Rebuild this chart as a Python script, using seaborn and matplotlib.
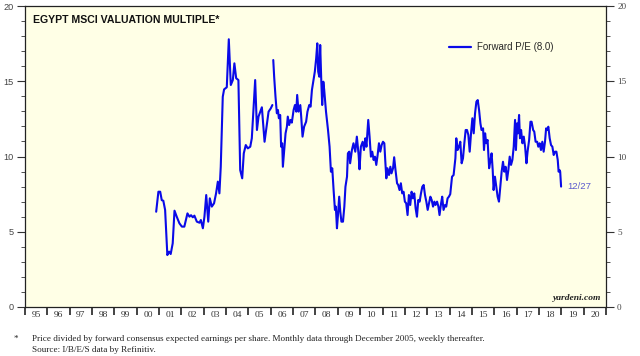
import numpy as np
import pandas as pd
import matplotlib
matplotlib.use("Agg")
import matplotlib.pyplot as plt
from matplotlib.lines import Line2D
import seaborn as sns

# ---------------- data ----------------
# Monthly data (through Dec 2005)
monthly_years = [2000.87, 2000.97, 2001.05, 2001.12, 2001.19, 2001.27, 2001.37, 2001.45, 2001.52, 2001.61,
                 2001.69, 2001.79, 2001.91, 2002.02, 2002.13, 2002.27, 2002.36, 2002.43, 2002.51, 2002.58,
                 2002.69, 2002.81, 2002.87, 2002.96, 2003.03, 2003.11, 2003.20, 2003.27, 2003.36, 2003.46,
                 2003.55, 2003.63, 2003.70, 2003.76, 2003.85, 2003.91, 2004.03, 2004.12, 2004.21, 2004.30,
                 2004.37, 2004.45, 2004.55, 2004.63, 2004.72, 2004.79, 2004.88, 2004.97, 2005.08, 2005.15,
                 2005.30, 2005.38, 2005.45, 2005.60, 2005.72, 2005.82, 2005.90, 2006.00, 2006.07]
monthly_pe = [6.33, 7.66, 7.66, 7.10, 7.06, 6.45, 3.45, 3.68, 3.52, 4.23,
              6.40, 6.00, 5.56, 5.34, 5.34, 6.22, 6.00, 6.10, 5.96, 6.07,
              5.67, 5.60, 5.78, 5.23, 6.00, 7.44, 5.67, 7.22, 6.67, 6.89,
              7.55, 8.33, 7.55, 9.32, 13.97, 14.46, 14.60, 17.79, 14.75, 15.08,
              16.19, 15.20, 15.08, 9.10, 8.55, 10.21, 10.76, 10.54, 10.65, 11.21,
              15.08, 11.76, 12.65, 13.27, 10.98, 12.09, 12.98, 13.20, 13.42]

# Weekly data (2006 onward)
weekly_years = [2006.11, 2006.15, 2006.21, 2006.27, 2006.32, 2006.36, 2006.42, 2006.46, 2006.51, 2006.54,
                2006.60, 2006.66, 2006.72, 2006.76, 2006.82, 2006.88, 2006.94, 2007.02, 2007.08, 2007.14,
                2007.18, 2007.24, 2007.32, 2007.36, 2007.42, 2007.49, 2007.58, 2007.64, 2007.72, 2007.78,
                2007.84, 2007.91, 2007.97, 2008.03, 2008.08, 2008.12, 2008.17, 2008.21, 2008.26, 2008.30,
                2008.35, 2008.39, 2008.47, 2008.56, 2008.63, 2008.69, 2008.75, 2008.81, 2008.87, 2008.91,
                2008.96, 2009.00, 2009.06, 2009.11, 2009.16, 2009.23, 2009.29, 2009.34, 2009.41, 2009.45,
                2009.51, 2009.55, 2009.63, 2009.70, 2009.78, 2009.85, 2009.93, 2009.97, 2010.03, 2010.11,
                2010.17, 2010.23, 2010.28, 2010.36, 2010.42, 2010.48, 2010.54, 2010.60, 2010.66, 2010.72,
                2010.78, 2010.84, 2010.90, 2010.96, 2011.02, 2011.08, 2011.12, 2011.17, 2011.22, 2011.29,
                2011.35, 2011.40, 2011.47, 2011.52, 2011.58, 2011.65, 2011.70, 2011.76, 2011.82, 2011.88,
                2011.94, 2012.00, 2012.06, 2012.12, 2012.18, 2012.24, 2012.30, 2012.36, 2012.42, 2012.48,
                2012.54, 2012.60, 2012.66, 2012.72, 2012.78, 2012.84, 2012.90, 2012.96, 2013.02, 2013.08,
                2013.14, 2013.20, 2013.26, 2013.32, 2013.37, 2013.44, 2013.50, 2013.55, 2013.62, 2013.67,
                2013.73, 2013.80, 2013.85, 2013.91, 2013.97, 2014.03, 2014.11, 2014.18, 2014.26, 2014.30,
                2014.36, 2014.42, 2014.48, 2014.54, 2014.60, 2014.66, 2014.72, 2014.78, 2014.84, 2014.90,
                2014.96, 2015.02, 2015.08, 2015.14, 2015.20, 2015.26, 2015.32, 2015.38, 2015.43, 2015.50,
                2015.54, 2015.59, 2015.64, 2015.70, 2015.77, 2015.82, 2015.88, 2015.93, 2015.97, 2016.03,
                2016.09, 2016.15, 2016.21, 2016.27, 2016.33, 2016.39, 2016.45, 2016.51, 2016.57, 2016.63,
                2016.69, 2016.75, 2016.81, 2016.87, 2016.93, 2016.97, 2017.02, 2017.06, 2017.11, 2017.15,
                2017.20, 2017.26, 2017.32, 2017.38, 2017.44, 2017.49, 2017.56, 2017.62, 2017.67, 2017.74,
                2017.79, 2017.85, 2017.92, 2017.97, 2018.03, 2018.09, 2018.15, 2018.21, 2018.27, 2018.32,
                2018.36, 2018.42, 2018.48, 2018.54, 2018.60, 2018.66, 2018.72, 2018.78, 2018.84, 2018.88,
                2018.92, 2018.95, 2018.99]
weekly_pe = [16.41, 15.30, 13.97, 12.87, 13.09, 12.54, 12.76, 10.65, 10.88, 9.32,
             10.43, 11.54, 11.98, 12.65, 12.09, 12.43, 12.25, 13.09, 13.42, 12.98,
             14.09, 12.98, 13.42, 12.65, 11.32, 11.98, 12.31, 12.98, 13.42, 13.31,
             14.42, 15.08, 15.64, 16.52, 17.52, 15.64, 15.30, 17.41, 14.97, 13.42,
             14.97, 14.42, 12.98, 11.76, 10.65, 8.99, 9.22, 7.77, 6.45, 6.67,
             5.23, 6.00, 7.33, 6.33, 5.67, 5.67, 6.67, 7.99, 8.66, 10.21,
             10.32, 9.55, 10.43, 10.88, 10.32, 11.32, 10.10, 9.15, 10.65, 10.98,
             10.43, 11.21, 10.65, 12.43, 11.32, 9.99, 10.32, 9.77, 9.99, 9.44,
             10.10, 10.88, 10.32, 10.76, 10.98, 10.88, 9.77, 8.55, 9.22, 8.77,
             9.32, 8.88, 9.22, 9.95, 9.10, 8.22, 8.11, 7.77, 8.22, 7.55,
             7.66, 7.00, 6.89, 6.11, 7.44, 6.78, 7.66, 7.22, 7.55, 6.56,
             6.00, 7.11, 7.00, 7.55, 7.99, 8.11, 7.44, 7.00, 6.45, 6.89,
             7.33, 7.11, 6.67, 7.00, 6.78, 7.00, 6.67, 6.11, 6.89, 7.33,
             6.45, 6.78, 6.67, 7.22, 7.33, 7.50, 8.66, 8.77, 9.88, 11.21,
             10.43, 10.65, 10.98, 9.55, 9.88, 10.88, 11.76, 11.76, 11.43, 10.32,
             11.54, 12.54, 11.54, 12.87, 13.64, 13.75, 13.09, 12.20, 11.76, 11.87,
             10.43, 11.54, 10.88, 11.10, 9.22, 9.65, 10.21, 9.10, 7.77, 8.66,
             7.99, 7.33, 7.00, 7.99, 8.99, 9.65, 8.99, 9.32, 8.44, 9.10,
             9.99, 9.44, 9.77, 10.65, 12.43, 10.43, 12.20, 11.54, 12.76, 11.21,
             11.76, 10.88, 11.32, 10.65, 9.55, 10.32, 11.10, 12.31, 12.31, 11.76,
             11.65, 10.98, 10.98, 10.65, 10.88, 10.43, 10.98, 10.32, 10.98, 11.87,
             11.76, 11.98, 11.21, 10.76, 10.65, 10.10, 10.32, 10.32, 9.77, 8.99,
             9.10, 8.99, 8.00]

year_labels = ["95", "96", "97", "98", "99", "00", "01", "02", "03", "04", "05", "06", "07",
               "08", "09", "10", "11", "12", "13", "14", "15", "16", "17", "18", "19", "20"]
y_ticks = [0, 5, 10, 15, 20]

title = "EGYPT MSCI VALUATION MULTIPLE*"
legend_label = "Forward P/E (8.0)"
end_label = "12/27"
footnote1 = "Price divided by forward consensus expected earnings per share. Monthly data through December 2005, weekly thereafter."
footnote2 = "Source: I/B/E/S data by Refinitiv."

# ---------------- styling ----------------
sns.set_style("ticks")
plt.rcParams["font.family"] = ["Liberation Sans", "DejaVu Sans"]

line_color = "#0A0AE8"
bg_color = "#FFFFE6"

df = pd.concat([
    pd.DataFrame({"year": monthly_years, "pe": monthly_pe, "segment": "monthly"}),
    pd.DataFrame({"year": weekly_years, "pe": weekly_pe, "segment": "weekly"}),
], ignore_index=True)

fig = plt.figure(figsize=(6.4, 3.56), dpi=100)
ax = fig.add_axes([25 / 640, 1 - 307 / 356, 581 / 640, 301 / 356])
ax.set_facecolor(bg_color)

sns.lineplot(data=df, x="year", y="pe", units="segment", estimator=None,
             color=line_color, linewidth=1.5, ax=ax, legend=False, sort=False)

ax.set_xlim(1995, 2021)
ax.set_ylim(0, 20)
ax.set_xlabel("")
ax.set_ylabel("")

# x ticks: year boundaries (major, with tick marks), labels centred in year (minor)
n_years = len(year_labels)
ax.set_xticks([1995 + i for i in range(n_years + 1)])
ax.set_xticklabels([])
ax.set_xticks([1995.5 + i for i in range(n_years)], minor=True)
ax.set_xticklabels(year_labels, minor=True)
ax.tick_params(axis="x", which="major", direction="out", length=6, width=1.2, color="#222222")
ax.tick_params(axis="x", which="minor", length=0, pad=3, labelsize=6.8, labelcolor="#333333")
for lab in ax.xaxis.get_minorticklabels():
    lab.set_fontfamily("Liberation Serif")

# y ticks, both sides
ax.set_yticks(y_ticks)
ax.set_yticks(np.arange(0, 21, 1), minor=True)
ax.tick_params(axis="y", which="both", left=True, right=True, labelleft=True, labelright=True,
               direction="out", color="#333333")
ax.tick_params(axis="y", which="major", length=6, width=0.8, labelsize=6.6, labelcolor="#444444", pad=2)
ax.tick_params(axis="y", which="minor", length=3, width=0.6)
for t in ax.yaxis.get_major_ticks():
    t.label2.set_fontfamily("Liberation Serif")

for s in ax.spines.values():
    s.set_visible(True)
    s.set_color("#222222")
    s.set_linewidth(0.9)

# title inside axes
ax.text(8 / 581, 1 - 14 / 301, title, transform=ax.transAxes, fontsize=7.6,
        fontweight="bold", ha="left", va="center", color="#111111")

# legend
handle = Line2D([], [], color=line_color, linewidth=1.6)
ax.legend([handle], [legend_label], loc="center left", bbox_to_anchor=(0.715, 0.863),
          frameon=False, fontsize=7, handlelength=2.2, handletextpad=0.7)

# end label
ax.text(2019.25, weekly_pe[-1], end_label, color="#5A5ACD", fontsize=6.8,
        ha="left", va="center")

# watermark
ax.text(1 - 5 / 581, 9 / 301, "yardeni.com", transform=ax.transAxes, fontsize=6.8,
        fontfamily="Liberation Serif", fontweight="bold", fontstyle="italic",
        ha="right", va="center", color="#222222")

# footnote
fig.text(14 / 640, 1 - 339 / 356, "*", fontsize=6.6, fontfamily="Liberation Serif",
         ha="left", va="center", color="#222222")
fig.text(32 / 640, 1 - 339 / 356, footnote1, fontsize=6.6, fontfamily="Liberation Serif",
         ha="left", va="center", color="#222222")
fig.text(32 / 640, 1 - 350 / 356, footnote2, fontsize=6.6, fontfamily="Liberation Serif",
         ha="left", va="center", color="#222222")

fig.savefig("out.png", dpi=100, facecolor="white")
